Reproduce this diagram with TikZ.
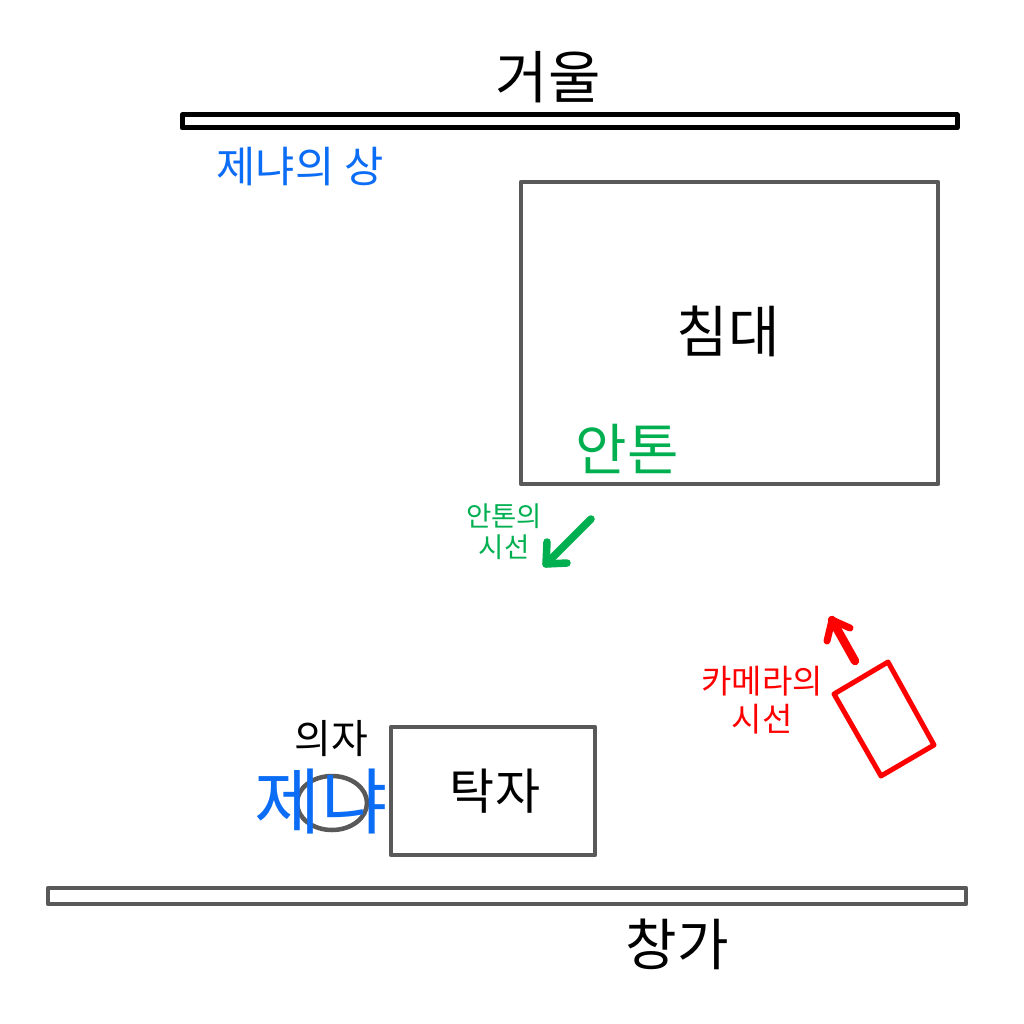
\documentclass[tikz,border=0pt]{standalone}
\usepackage{fontspec}
\setmainfont{Noto Sans CJK KR}
\definecolor{grayline}{HTML}{595959}
\definecolor{jblue}{HTML}{0B6CF5}
\definecolor{agreen}{HTML}{00B050}
\definecolor{cred}{HTML}{FF0000}
\tikzset{
 lab/.style={inner sep=0pt,font=\fontsize{#1}{#1}\selectfont},
 furn/.style={draw=grayline,line width=4.5pt,line join=round},
 gaze/.style={line cap=round,line join=round},
}
\begin{document}
\begin{tikzpicture}[x=1pt,y=-1pt]
\useasboundingbox (0,0) rectangle (1024,1024);
\fill[white] (0,0) rectangle (1024,1024);
\draw[black,line width=5pt,line join=round] (182,115) rectangle (957,128);
\draw[furn] (521,182) rectangle (938,484);
\draw[furn] (391,727) rectangle (595,855);
\draw[furn] (48,888) rectangle (966,904);
\draw[furn] (332,803) ellipse (35 and 27);
\draw[cred,line width=5pt,line join=round] (834,694) -- (888,662) -- (934,745) -- (881,776) -- cycle;
\node[lab=57] (mirror) at (548,77) {거울};
\node[lab=42.7,text=jblue] (img) at (300,167) {제냐의 상};
\node[lab=56] (bed) at (728,331) {침대};
\node[lab=56,text=agreen] (anton) at (627,449) {안톤};
\node[lab=27.5,text=agreen,align=center] (agaze) at (504,532) {안톤의\\[3.5pt]시선};
\node[lab=33,text=cred,align=center] (cgaze) at (762,700) {카메라의\\[5pt]시선};
\node[lab=40] (chair) at (331,739) {의자};
\node[lab=49] (table) at (495,791) {탁자};
\node[lab=72,text=jblue] (jenya) at (321,802) {제냐};
\node[lab=56] (window) at (677,944) {창가};
\coordinate (as) at (591,519); \coordinate (ae) at (546,564);
\coordinate (ab1) at (547,542); \coordinate (ab2) at (567,563);
\coordinate (cs) at (855,661); \coordinate (ce) at (832,620);
\coordinate (cb1) at (827,641); \coordinate (cb2) at (850,628);
\draw[agreen,gaze,line width=7.5pt] (as) -- (ae);
\draw[agreen,gaze,line width=7.5pt] (ab1) -- (ae) -- (ab2);
\draw[cred,gaze,line width=8.5pt] (cs) -- (ce);
\draw[cred,gaze,line width=7pt] (cb1) -- (ce) -- (cb2);
\end{tikzpicture}
\end{document}
